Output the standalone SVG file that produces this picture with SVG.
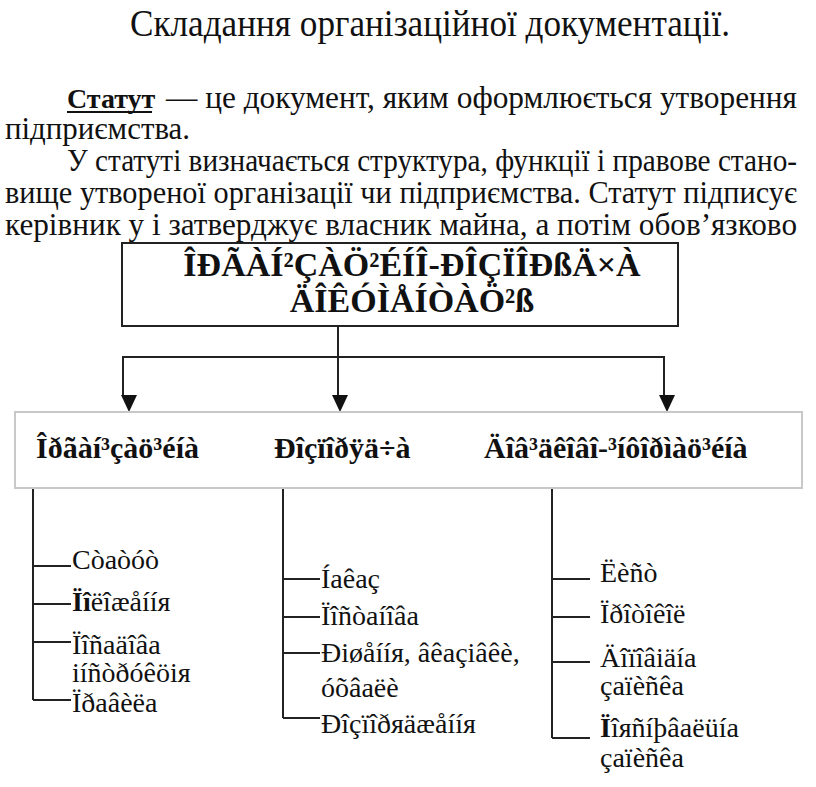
<svg xmlns="http://www.w3.org/2000/svg" width="816" height="787" viewBox="0 0 816 787">
<defs>
<style>
.t{fill:#111}
.b{font-weight:bold}
.ln{stroke:#222;stroke-width:2;fill:none}
.it{font-size:28px;fill:#111}
.hd{font-size:30px;font-weight:bold;fill:#111}
</style>
</defs>
<rect width="816" height="787" fill="#fff"/>
<g id="intro">
<text class="t" font-family="Liberation Serif" x="130" y="36" font-size="38" textLength="600" lengthAdjust="spacingAndGlyphs">Складання організаційної документації.</text>
<text class="t b" font-family="Liberation Serif" x="67" y="108" font-size="28">Статут</text>
<line x1="67" y1="112" x2="152" y2="112" stroke="#111" stroke-width="2"/>
<text class="t" font-family="Liberation Serif" x="166" y="108" font-size="31" textLength="631" lengthAdjust="spacingAndGlyphs">— це документ, яким оформлюється утворення</text>
<text class="t" font-family="Liberation Serif" x="5" y="139" font-size="31" textLength="185" lengthAdjust="spacingAndGlyphs">підприємства.</text>
<text class="t" font-family="Liberation Serif" x="67" y="171" font-size="31" textLength="730" lengthAdjust="spacingAndGlyphs">У статуті визначається структура, функції і правове стано-</text>
<text class="t" font-family="Liberation Serif" x="5" y="203" font-size="31" textLength="792" lengthAdjust="spacingAndGlyphs">вище утвореної організації чи підприємства. Статут підписує</text>
<text class="t" font-family="Liberation Serif" x="5" y="235" font-size="31" textLength="792" lengthAdjust="spacingAndGlyphs">керівник у і затверджує власник майна, а потім обов’язково</text>
</g>
<g id="root">
<rect x="122" y="243" width="556" height="83" fill="none" stroke="#222" stroke-width="2"/>
<text class="t b" font-family="Liberation Serif" x="412" y="276" font-size="34" text-anchor="middle">ÎÐÃÀÍ²ÇÀÖ²ÉÍÎ-ÐÎÇÏÎÐßÄ×À</text>
<text class="t b" font-family="Liberation Serif" x="412" y="312" font-size="34" text-anchor="middle">ÄÎÊÓÌÅÍÒÀÖ²ß</text>
</g>
<g id="connectors">
<path class="ln" d="M338 326 V395"/>
<path class="ln" d="M123 395 V357 H664 V395"/>
<path d="M121 395 L137 395 L129 412 Z" fill="#111"/>
<path d="M332 395 L348 395 L340 412 Z" fill="#111"/>
<path d="M659 395 L675 395 L667 412 Z" fill="#111"/>
<path class="ln" d="M33 488 V700 M33 566 H71 M33 604 H71 M33 642 H71 M33 700 H71"/>
<path class="ln" d="M283 488 V718 M283 579 H320 M283 617 H320 M283 653 H320 M283 718 H320"/>
<path class="ln" d="M552 488 V738 M552 579 H590 M552 617 H590 M552 662 H590 M552 738 H590"/>
</g>
<g id="types">
<rect x="15" y="412" width="787" height="76" fill="none" stroke="#c8c8c8" stroke-width="2"/>
<text class="hd" font-family="Liberation Serif" x="36" y="458">Îðãàí³çàö³éíà</text>
<text class="hd" font-family="Liberation Serif" x="274" y="458">Ðîçïîðÿä÷à</text>
<text class="hd" font-family="Liberation Serif" x="484" y="458">Äîâ³äêîâî-³íôîðìàö³éíà</text>
</g>
<g id="org-items">
<text class="it" font-family="Liberation Serif" x="72" y="569">Còaòóò</text>
<text class="it" font-family="Liberation Serif" x="72" y="611"><tspan font-weight="bold">Ïî</tspan>ëîæåííя</text>
<text class="it" font-family="Liberation Serif" x="72" y="654">Ïîñaäîâa</text>
<text class="it" font-family="Liberation Serif" x="72" y="682">iíñòðóêöiя</text>
<text class="it" font-family="Liberation Serif" x="72" y="712">Ïðaâèëa</text>
</g>
<g id="admin-items">
<text class="it" font-family="Liberation Serif" x="321" y="588">Íaêaç</text>
<text class="it" font-family="Liberation Serif" x="321" y="625">Ïîñòaíîâa</text>
<text class="it" font-family="Liberation Serif" x="321" y="662">Ðiøåííя, âêaçiâêè,</text>
<text class="it" font-family="Liberation Serif" x="321" y="697">óõâaëè</text>
<text class="it" font-family="Liberation Serif" x="321" y="733">Ðîçïîðяäæåííя</text>
</g>
<g id="info-items">
<text class="it" font-family="Liberation Serif" x="600" y="582">Ëèñò</text>
<text class="it" font-family="Liberation Serif" x="600" y="623">Ïðîòîêîë</text>
<text class="it" font-family="Liberation Serif" x="600" y="667">Äîïîâiäía</text>
<text class="it" font-family="Liberation Serif" x="600" y="695">çaïèñêa</text>
<text class="it" font-family="Liberation Serif" x="600" y="737"><tspan font-weight="bold">Ï</tspan>îяñíþâaëüía</text>
<text class="it" font-family="Liberation Serif" x="600" y="767">çaïèñêa</text>
</g>
</svg>
